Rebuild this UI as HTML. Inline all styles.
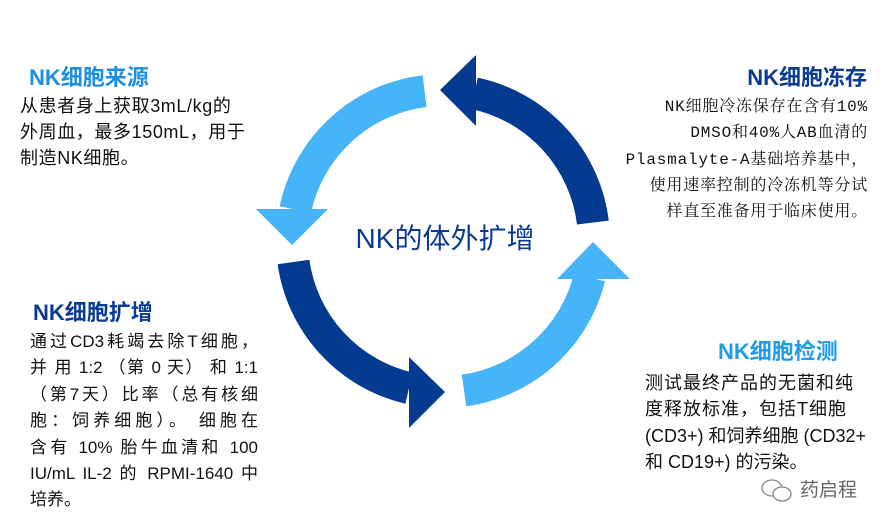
<!DOCTYPE html>
<html><head><meta charset="utf-8"><style>
body{margin:0;width:895px;height:529px;background:#fff;position:relative;overflow:hidden;font-family:"Liberation Sans","Noto Sans CJK SC",sans-serif;}
.l{position:absolute;white-space:nowrap;font-size:18px;letter-spacing:1px;color:#111;line-height:20px;}
.t{position:absolute;white-space:nowrap;font-weight:bold;font-size:22px;line-height:24px;}
.j{text-align:justify;text-align-last:justify;width:228px;letter-spacing:0;font-size:17px;}
.s{font-family:"Liberation Mono","Noto Serif CJK SC",monospace;font-size:16px;letter-spacing:0.8px;}
</style></head><body>
<svg width="895" height="529" style="position:absolute;left:0;top:0">
<g fill="none" stroke-width="32">
<path d="M592.9,222.6 A151,151 0 0 0 474.4,93.3" stroke="#053A91"/>
<path d="M424.6,91.1 A151,151 0 0 0 295.3,209.6" stroke="#45B4F8"/>
<path d="M293.5,262 A151,151 0 0 0 409,388.1" stroke="#053A91"/>
<path d="M464,390.5 A151,151 0 0 0 589.5,277.5" stroke="#45B4F8"/>
</g>
<polygon points="476,55 476,126 440,90" fill="#053A91"/>
<polygon points="256,209 328,209 292,245" fill="#45B4F8"/>
<polygon points="409,357 409,428 445,392" fill="#053A91"/>
<polygon points="557,279 630,279 593,242" fill="#45B4F8"/>
<text x="445" y="248" text-anchor="middle" font-size="28" fill="#0B3C91" font-family="Liberation Sans,Noto Sans CJK SC,sans-serif">NK的体外扩增</text>
</svg>

<div class="t" style="left:29px;top:66px;color:#1E8FE0">NK细胞来源</div>
<div class="l" style="left:20px;top:96px;letter-spacing:0.6px">从患者身上获取3mL/kg的</div>
<div class="l" style="left:20px;top:122px;letter-spacing:0.6px">外周血，最多150mL，用于</div>
<div class="l" style="left:20px;top:148px;letter-spacing:0.6px">制造NK细胞。</div>

<div class="t" style="right:28px;top:66px;color:#0B3C91">NK细胞冻存</div>
<div class="l s" style="right:27px;top:97px">NK细胞冷冻保存在含有10%</div>
<div class="l s" style="right:27px;top:123px">DMSO和40%人AB血清的</div>
<div class="l s" style="right:27px;top:150px">Plasmalyte-A基础培养基中，</div>
<div class="l s" style="right:27px;top:176px">使用速率控制的冷冻机等分试</div>
<div class="l s" style="right:27px;top:202px">样直至准备用于临床使用。</div>

<div class="t" style="left:33px;top:301px;color:#0B3C91">NK细胞扩增</div>
<div class="l j" style="left:30px;top:332px">通过CD3耗竭去除T细胞，</div>
<div class="l j" style="left:30px;top:358px">并 用 1:2 （第 0 天） 和 1:1</div>
<div class="l j" style="left:30px;top:385px">（第7天）比率（总有核细</div>
<div class="l j" style="left:30px;top:411px">胞：饲养细胞）。 细胞在</div>
<div class="l j" style="left:30px;top:438px">含有 10% 胎牛血清和 100</div>
<div class="l j" style="left:30px;top:464px">IU/mL IL-2 的 RPMI-1640 中</div>
<div class="l" style="left:30px;top:490px;font-size:17px;letter-spacing:0">培养。</div>

<div class="t" style="left:718px;top:340px;color:#1E9BEA">NK细胞检测</div>
<div class="l" style="left:645px;top:373px">测试最终产品的无菌和纯</div>
<div class="l" style="left:645px;top:399px">度释放标准，包括T细胞</div>
<div class="l" style="left:645px;top:426px;letter-spacing:0">(CD3+) 和饲养细胞 (CD32+</div>
<div class="l" style="left:645px;top:452px;letter-spacing:0">和 CD19+) 的污染。</div>

<svg width="40" height="30" style="position:absolute;left:758px;top:476px">
<ellipse cx="14" cy="12" rx="10" ry="8" fill="none" stroke="#888" stroke-width="1.3"/>
<ellipse cx="24" cy="18" rx="9" ry="7" fill="#fff" stroke="#888" stroke-width="1.3"/>
</svg>
<div class="l" style="left:800px;top:480px;color:#666;font-size:19px;line-height:22px;letter-spacing:0">药启程</div>
</body></html>
